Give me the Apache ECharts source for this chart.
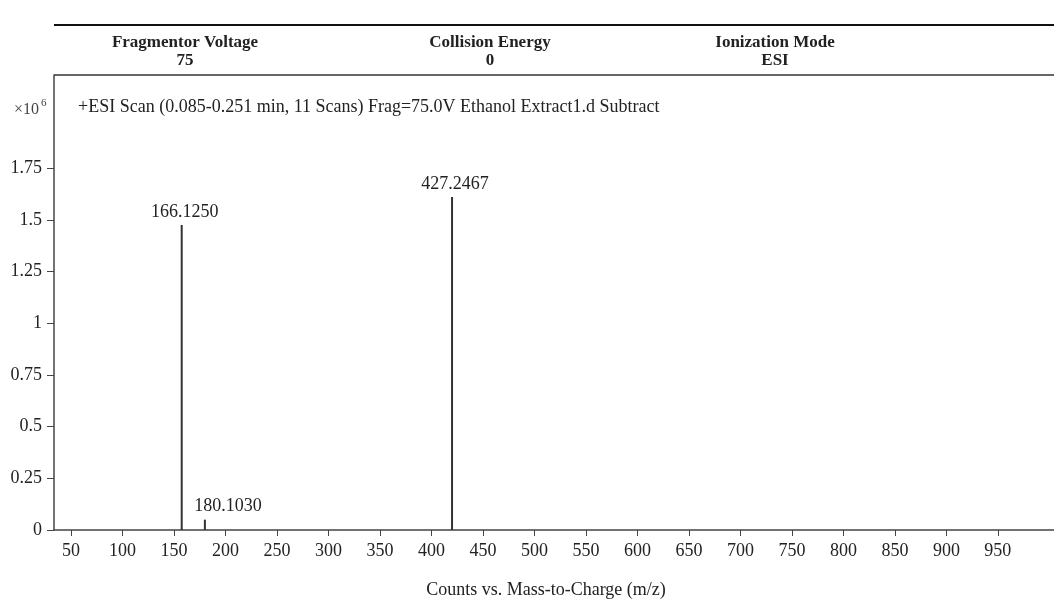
<!DOCTYPE html>
<html>
<head>
<meta charset="utf-8">
<script src="https://cdn.jsdelivr.net/npm/echarts@6/dist/echarts.min.js"></script>
<style>
  html, body { margin: 0; padding: 0; background: #fff; }
  #main { width: 1054px; height: 602px; }
</style>
</head>
<body>
<div id="main"></div>
<script>
// stick spectrum, counts in units of 10^6
var mzTicks = [50, 100, 150, 200, 250, 300, 350, 400, 450, 500, 550, 600, 650, 700, 750, 800, 850, 900, 950];
var countTicks = [0, 0.25, 0.5, 0.75, 1, 1.25, 1.5, 1.75];
var peakMz = [157.5, 180, 420];
var peakCounts = [1.475, 0.05, 1.61];
var peakLabels = ['166.1250', '180.1030', '427.2467'];

var headerNames = ['Fragmentor Voltage', 'Collision Energy', 'Ionization Mode'];
var headerValues = ['75', '0', 'ESI'];
var headerX = [185, 490, 775];

var font = '"Liberation Serif", "DejaVu Serif", serif';
var myChart = echarts.init(document.getElementById('main'));

var graphics = [
    { type: 'line', shape: { x1: 54, y1: 25, x2: 1054, y2: 25 }, style: { stroke: '#111', lineWidth: 2 } },
    { type: 'line', shape: { x1: 54, y1: 75, x2: 1054, y2: 75 }, style: { stroke: '#333', lineWidth: 1.5 } },
    { type: 'text', x: 14, y: 110, style: { text: '×10', font: '16px ' + font, fill: '#444', verticalAlign: 'middle' } },
    { type: 'text', x: 41, y: 103, style: { text: '6', font: '11px ' + font, fill: '#444', verticalAlign: 'middle' } },
    { type: 'text', x: 78, y: 107, style: { text: '+ESI Scan (0.085-0.251 min, 11 Scans) Frag=75.0V Ethanol Extract1.d Subtract', font: '18px ' + font, fill: '#222', verticalAlign: 'middle' } },
    { type: 'text', x: 546, y: 590, style: { text: 'Counts vs. Mass-to-Charge (m/z)', font: '18px ' + font, fill: '#222', align: 'center', verticalAlign: 'middle' } }
];
headerNames.forEach(function (n, i) {
    graphics.push({ type: 'text', x: headerX[i], y: 43, style: { text: n, font: 'bold 17px ' + font, fill: '#222', align: 'center', verticalAlign: 'middle' } });
    graphics.push({ type: 'text', x: headerX[i], y: 61, style: { text: headerValues[i], font: 'bold 17px ' + font, fill: '#222', align: 'center', verticalAlign: 'middle' } });
});

var labelOffsets = [[3, 0], [23, 0], [3, 0]];
var data = peakMz.map(function (m, i) {
    return {
        value: [m, peakCounts[i]],
        label: { formatter: peakLabels[i], offset: labelOffsets[i] }
    };
});

option = {
    animation: false,
    grid: { left: 54, right: 0, top: 75, bottom: 72 },
    graphic: graphics,
    xAxis: {
        type: 'value',
        min: 33.5,
        max: 1004.5,
        axisLine: { lineStyle: { color: '#444', width: 1.5 } },
        axisTick: { customValues: mzTicks, length: 6, lineStyle: { color: '#444' } },
        axisLabel: { customValues: mzTicks, fontFamily: font, fontSize: 18, color: '#222', margin: 12 },
        splitLine: { show: false }
    },
    yAxis: {
        type: 'value',
        min: 0,
        max: 2.2,
        axisLine: { show: true, lineStyle: { color: '#444', width: 1.5 } },
        axisTick: { show: true, customValues: countTicks, length: 7, lineStyle: { color: '#444' } },
        axisLabel: { customValues: countTicks, fontFamily: font, fontSize: 18, color: '#222', margin: 12 },
        splitLine: { show: false }
    },
    series: [{
        type: 'bar',
        barWidth: 2,
        itemStyle: { color: '#333' },
        label: { show: true, position: 'top', distance: 4, fontFamily: font, fontSize: 18, color: '#222' },
        data: data
    }]
};

myChart.setOption(option);
</script>
</body>
</html>
